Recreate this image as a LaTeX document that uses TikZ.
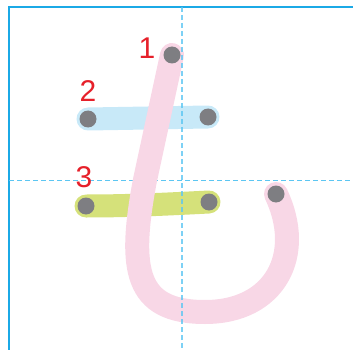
\documentclass[tikz,border=0pt]{standalone}
\usepackage{fontspec}
\setmainfont{Liberation Sans}
\usepackage{tikz}
\usetikzlibrary{positioning, backgrounds}

\definecolor{gridblue}{HTML}{1BA9E6}
\definecolor{guideblue}{HTML}{5CC6F2}
\definecolor{strokepink}{HTML}{F8D7E6}
\definecolor{strokeblue}{HTML}{C8E9F8}
\definecolor{strokegreen}{HTML}{D5E17A}
\definecolor{dotgrey}{HTML}{7E7E82}
\definecolor{numred}{HTML}{E6202A}

\tikzset{
    dot/.style={circle, fill=dotgrey, inner sep=0pt, minimum size=17pt},
    guide/.style={guideblue, line width=1.3pt, dash pattern=on 5pt off 3pt},
    brush/.style={line width=23pt, line cap=round, line join=round},
    num/.style={text=numred, font=\fontsize{30}{30}\selectfont, inner sep=0pt}
}

\begin{document}
\begin{tikzpicture}[x=1pt, y=-1pt]

    \useasboundingbox (0,0) rectangle (353,350);

    % Start and end points of the strokes
    \node[dot] (s1a) at (172,55) {};
    \node[dot] (s1b) at (276,194) {};
    \node[dot] (s2a) at (88,119) {};
    \node[dot] (s2b) at (208,117) {};
    \node[dot] (s3a) at (86,206) {};
    \node[dot] (s3b) at (209,202) {};

    \begin{scope}[on background layer]
        % Frame of the writing box and horizontal guide
        \draw[gridblue, line width=2pt] (9,352) -- (9,7) -- (355,7);
        \draw[guide] (9,180.5) -- (353,180.5);

        % Strokes 2 and 3
        \draw[brush, strokeblue] (s2a.center) -- (s2b.center);
        \draw[brush, strokegreen] (s3a.center) .. controls (130,206) and (170,204) .. (s3b.center);

        % Stroke 1, the hook
        \draw[brush, line width=24pt, strokepink] (s1a.center) -- (145,180)
            .. controls (128,270) and (135,312) .. (205,312)
            .. controls (275,312) and (305,255) .. (s1b.center);

        % Vertical guide, over the strokes
        \draw[guide, opacity=0.8] (182,7) -- (182,350);
    \end{scope}

    % Stroke numbers
    \node[num] (n1) at (147,48) {1};
    \node[num] (n2) at (88,91) {2};
    \node[num] (n3) at (84,177) {3};

\end{tikzpicture}
\end{document}
